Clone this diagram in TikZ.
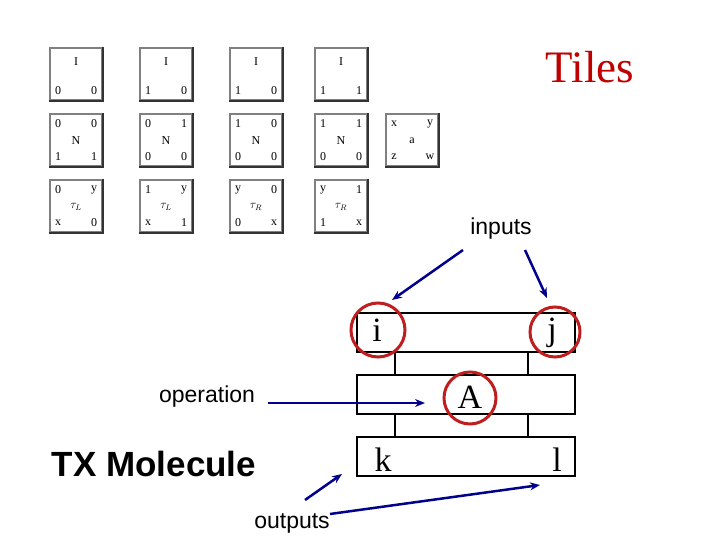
\documentclass[tikz,border=0pt]{standalone}
\usepackage{fontspec}
\setmainfont{Liberation Serif}
\setsansfont{Liberation Sans}
\usetikzlibrary{arrows.meta,calc}
\definecolor{tilered}{RGB}{192,0,0}
\definecolor{navyblue}{RGB}{0,0,140}
\definecolor{circred}{RGB}{190,30,30}
\tikzset{
  tileBox/.style={draw=gray, line width=1.2pt, minimum width=52pt, minimum height=52pt, inner sep=0pt},
  tileText/.style={font=\fontsize{12}{13}\selectfont, inner sep=1pt},
  strand/.style={draw=black, line width=1.2pt, inner sep=0pt},
  bigLetter/.style={font=\fontsize{34}{36}\selectfont, inner sep=0pt},
  ringMark/.style={draw=circred, line width=3pt},
  pointer/.style={navyblue, line width=2.5pt, -{Stealth[length=10pt,width=8pt]}},
  labelText/.style={font=\sffamily\fontsize{23}{24}\selectfont}
}
\newcommand{\tile}[7]{%
  \node (#1) [tileBox] at (#2) {};
  \draw[black!80, line width=2pt] (#1.south west) -- (#1.south east) -- (#1.north east);
  \node[tileText] at ($(#1.center)+(-18,-16)$) {#3};
  \node[tileText] at ($(#1.center)+(18,-16)$) {#4};
  \node[tileText] at ($(#1.center)+(-18,17)$) {#5};
  \node[tileText] at ($(#1.center)+(18,17)$) {#6};
  \node[tileText] at ($(#1.center)+(0,1)$) {#7};
}
\begin{document}
\begin{tikzpicture}[x=1pt,y=-1pt]
  \useasboundingbox (0,0) rectangle (720,540);

  % tiles
  \tile{tileA}{76,74}{}{}{0}{0}{}
  \node[tileText] at (76,62) {I};
  \tile{tileB}{166,74}{}{}{1}{0}{}
  \node[tileText] at (166,62) {I};
  \tile{tileC}{256,74}{}{}{1}{0}{}
  \node[tileText] at (256,62) {I};
  \tile{tileD}{341,74}{}{}{1}{1}{}
  \node[tileText] at (341,62) {I};
  \tile{tileE}{76,140}{0}{0}{1}{1}{N}
  \tile{tileF}{166,140}{0}{1}{0}{0}{N}
  \tile{tileG}{256,140}{1}{0}{0}{0}{N}
  \tile{tileH}{341,140}{1}{1}{0}{0}{N}
  \tile{tileX}{412,140}{x}{y}{z}{w}{a}
  \tile{tileJ}{76,206}{0}{y}{x}{0}{$\tau_L$}
  \tile{tileK}{166,206}{1}{y}{x}{1}{$\tau_L$}
  \tile{tileL}{256,206}{y}{0}{0}{x}{$\tau_R$}
  \tile{tileM}{341,206}{y}{1}{1}{x}{$\tau_R$}

  \node (title) [text=tilered, font=\fontsize{45}{47}\selectfont] at (590,67) {Tiles};

  % TX molecule
  \draw[line width=1.2pt] (395,352) -- (395,375) (528,352) -- (528,375);
  \draw[line width=1.2pt] (395,414) -- (395,437) (528,414) -- (528,437);
  \node (topStrand) [strand, minimum width=218pt, minimum height=39pt] at (466,332.5) {};
  \node (midStrand) [strand, minimum width=218pt, minimum height=39pt] at (466,394.5) {};
  \node (botStrand) [strand, minimum width=218pt, minimum height=39pt] at (466,456.5) {};

  \node (letI) [bigLetter] at (377,330) {i};
  \node (letJ) [bigLetter] at (552,333) {j};
  \node (letA) [bigLetter] at (470,397) {A};
  \node (letK) [bigLetter] at (383,460) {k};
  \node (letL) [bigLetter] at (557,460) {l};

  \draw[ringMark] (378,330) circle (27);
  \draw[ringMark] (555,332) circle (25);
  \draw[ringMark] (470,398) circle (26);

  % labels and pointers
  \node (inputs) [labelText] at (501,229) {inputs};
  \node (operation) [labelText] at (207,397) {operation};
  \node (outputs) [labelText] at (292,523) {outputs};
  \node (txmol) [font=\sffamily\bfseries\fontsize{35}{37}\selectfont] at (154,464) {TX Molecule};

  \coordinate (inTipI) at (392,300);
  \coordinate (inTipJ) at (547,298);
  \coordinate (opTip) at (425,403);
  \coordinate (outTipK) at (342,474);
  \coordinate (outTipL) at (540,485);

  \draw[pointer] (463,250) -- (inTipI);
  \draw[pointer] (525,250) -- (inTipJ);
  \draw[pointer] (268,403) -- (opTip);
  \draw[pointer] (305,500) -- (outTipK);
  \draw[pointer] (330,514) -- (outTipL);
\end{tikzpicture}
\end{document}
